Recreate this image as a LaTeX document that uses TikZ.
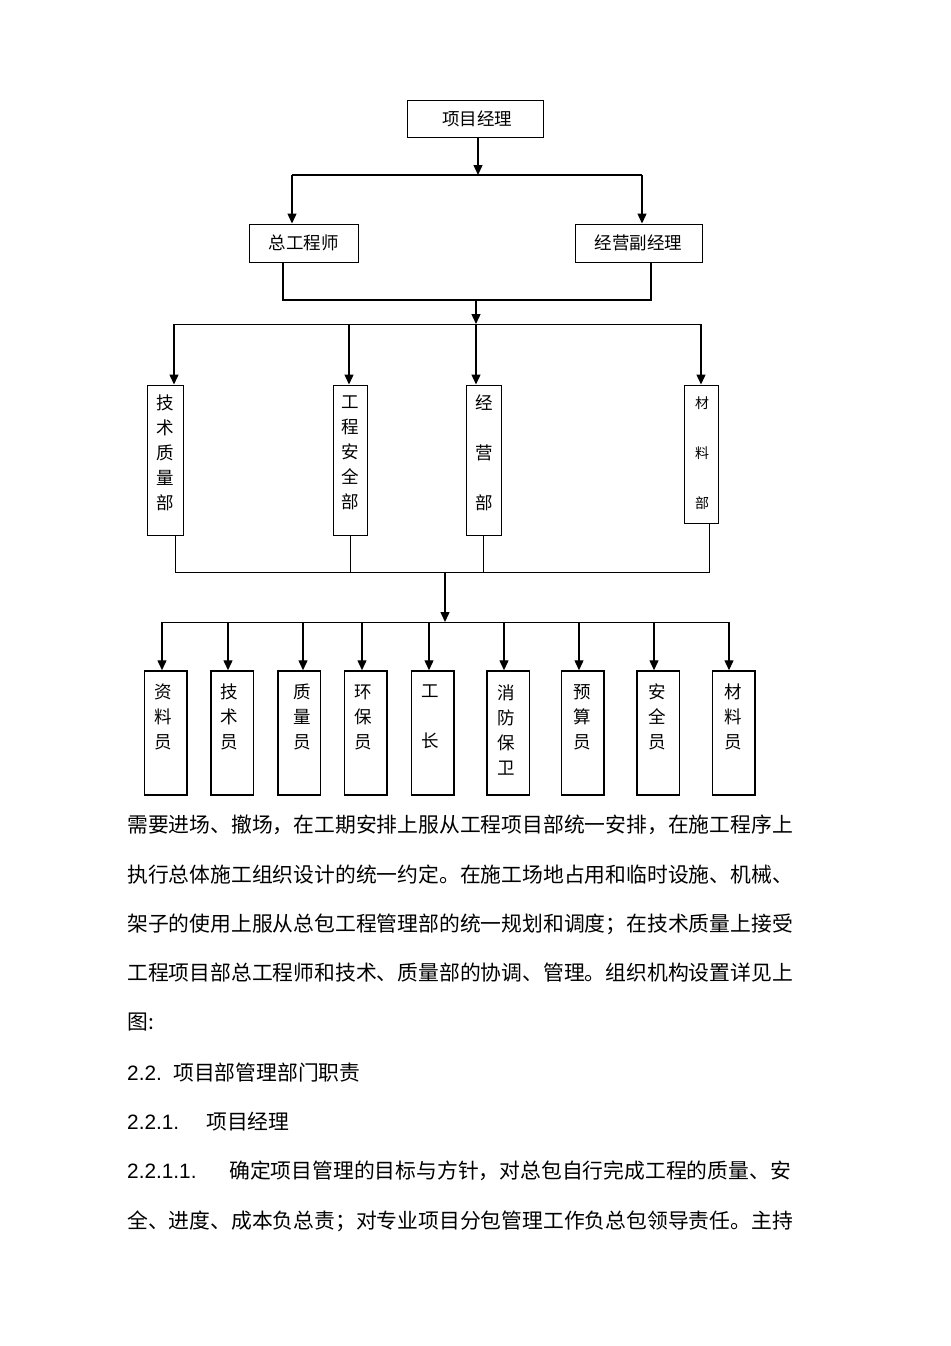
\documentclass[tikz,border=0pt]{standalone}
\usepackage{fontspec}
\newfontfamily\cjk{Noto Sans CJK SC}
\newfontfamily\lat{Liberation Sans}
\usetikzlibrary{arrows.meta}
\begin{document}
\begin{tikzpicture}[x=1pt,y=-1pt,
  box/.style={draw, line width=1pt, inner sep=0pt},
  bbox/.style={draw, line width=1.5pt, inner sep=0pt, minimum width=42.5pt, minimum height=124pt},
  arr/.style={-{Triangle[length=10pt,width=9pt]}, line width=1.4pt},
  ln/.style={line width=1.4pt},
  tln/.style={line width=1pt},
  lbl/.style={font=\cjk\fontsize{17.5}{25}\selectfont, align=center, inner sep=0pt},
  slbl/.style={font=\cjk\fontsize{14}{25}\selectfont, align=center, inner sep=0pt},
  body/.style={font=\cjk\fontsize{20.8}{25}\selectfont, anchor=west, inner sep=0pt, text height=18.3pt, text depth=2.5pt}]
\fill[white] (0,0) rectangle (950,1346);
\useasboundingbox (0,0) rectangle (950,1346);

% level 1 and 2
\node[box, lbl, minimum width=136pt, minimum height=37pt] (pm) at (475,118.5) {\hspace*{4pt}项目经理};
\node[box, lbl, minimum width=109pt, minimum height=38pt] (ce) at (303.5,243) {总工程师};
\node[box, lbl, minimum width=127pt, minimum height=38pt] (vm) at (638.5,243) {经营副经理};

\coordinate (j1) at (478,175);
\coordinate (j1l) at (292,175);
\coordinate (j1r) at (642,175);
\draw[arr] (pm.south -| j1) -- (j1);
\draw[ln] (j1l) -- (j1r);
\draw[arr] (j1l) -- (j1l |- ce.north);
\draw[arr] (j1r) -- (j1r |- vm.north);

\coordinate (j2l) at (283,300);
\coordinate (j2r) at (651,300);
\coordinate (j2) at (476,300);
\coordinate (j3) at (476,324);
\draw[ln] (j2l |- ce.south) -- (j2l) -- (j2r) -- (j2r |- vm.south);
\draw[arr] (j2) -- (j3);

% departments
\node[box, minimum width=36pt, minimum height=150pt] (d1) at (165,460) {};
\node[lbl] (d1t) at (165,453) {技\\术\\质\\量\\部};
\node[box, minimum width=34pt, minimum height=150pt] (d2) at (350,460) {};
\node[lbl] (d2t) at (350,453) {工\\程\\安\\全\\部};
\node[box, minimum width=35pt, minimum height=150pt] (d3) at (483.5,460) {};
\node[lbl] (d3t) at (484,453) {经\\[25pt]营\\[25pt]部};
\node[box, minimum width=34pt, minimum height=138pt] (d4) at (701,454) {};
\node[slbl] (d4t) at (702,453) {材\\[25pt]料\\[25pt]部};

\coordinate (j3l) at (174,324);
\coordinate (j3b) at (349,324);
\coordinate (j3r) at (701,324);
\draw[tln] (j3l) -- (j3r);
\draw[arr] (j3l) -- (j3l |- d1.north);
\draw[arr] (j3b) -- (j3b |- d2.north);
\draw[arr] (j3) -- (j3 |- d3.north);
\draw[arr] (j3r) -- (j3r |- d4.north);

\coordinate (k1) at (175,572);
\coordinate (k2) at (350,572);
\coordinate (k3) at (483,572);
\coordinate (k4) at (709,572);
\coordinate (k0) at (445,572);
\draw[tln] (k1 |- d1.south) -- (k1) -- (k4) -- (k4 |- d4.south);
\draw[tln] (k2 |- d2.south) -- (k2);
\draw[tln] (k3 |- d3.south) -- (k3);

% staff
\coordinate (m0) at (445,622);
\draw[arr] (k0) -- (m0);
\coordinate (m1) at (162,622);
\coordinate (m2) at (228,622);
\coordinate (m3) at (303,622);
\coordinate (m4) at (362,622);
\coordinate (m5) at (429,622);
\coordinate (m6) at (504,622);
\coordinate (m7) at (579,622);
\coordinate (m8) at (654,622);
\coordinate (m9) at (729,622);
\draw[tln] (m1) -- (m9);

\node[bbox] (s1) at (165.5,733) {};
\node[bbox] (s2) at (232,733) {};
\node[bbox] (s3) at (299,733) {};
\node[bbox] (s4) at (365.5,733) {};
\node[bbox] (s5) at (432.5,733) {};
\node[bbox] (s6) at (508,733) {};
\node[bbox] (s7) at (582.5,733) {};
\node[bbox] (s8) at (658,733) {};
\node[bbox] (s9) at (733.5,733) {};
\node[lbl] (s1t) at (163.5,717) {资\\料\\员};
\node[lbl] (s2t) at (229.5,717) {技\\术\\员};
\node[lbl] (s3t) at (302,717) {质\\量\\员};
\node[lbl] (s4t) at (363,717) {环\\保\\员};
\node[lbl] (s5t) at (430,717) {工\\[25pt]长};
\node[lbl] (s6t) at (506,730) {消\\防\\保\\卫};
\node[lbl] (s7t) at (582,717) {预\\算\\员};
\node[lbl] (s8t) at (657,717) {安\\全\\员};
\node[lbl] (s9t) at (733,717) {材\\料\\员};

\draw[arr] (m1) -- (m1 |- s1.north);
\draw[arr] (m2) -- (m2 |- s2.north);
\draw[arr] (m3) -- (m3 |- s3.north);
\draw[arr] (m4) -- (m4 |- s4.north);
\draw[arr] (m5) -- (m5 |- s5.north);
\draw[arr] (m6) -- (m6 |- s6.north);
\draw[arr] (m7) -- (m7 |- s7.north);
\draw[arr] (m8) -- (m8 |- s8.north);
\draw[arr] (m9) -- (m9 |- s9.north);

% body text
\node[body] (p1) at (127,825) {需要进场、撤场，在工期安排上服从工程项目部统一安排，在施工程序上};
\node[body] (p2) at (127,875) {执行总体施工组织设计的统一约定。在施工场地占用和临时设施、机械、};
\node[body] (p3) at (127,924) {架子的使用上服从总包工程管理部的统一规划和调度；在技术质量上接受};
\node[body] (p4) at (127,973) {工程项目部总工程师和技术、质量部的协调、管理。组织机构设置详见上};
\node[body] (p5) at (127,1022) {图:};
\node[body] (p6) at (127,1073) {\makebox[46pt][l]{\lat 2.2.}项目部管理部门职责};
\node[body] (p7) at (127,1122) {\makebox[79pt][l]{\lat 2.2.1.}项目经理};
\node[body] (p8) at (127,1171) {\makebox[102pt][l]{\lat 2.2.1.1.}确定项目管理的目标与方针，对总包自行完成工程的质量、安};
\node[body] (p9) at (127,1221) {全、进度、成本负总责；对专业项目分包管理工作负总包领导责任。主持};
\end{tikzpicture}
\end{document}
